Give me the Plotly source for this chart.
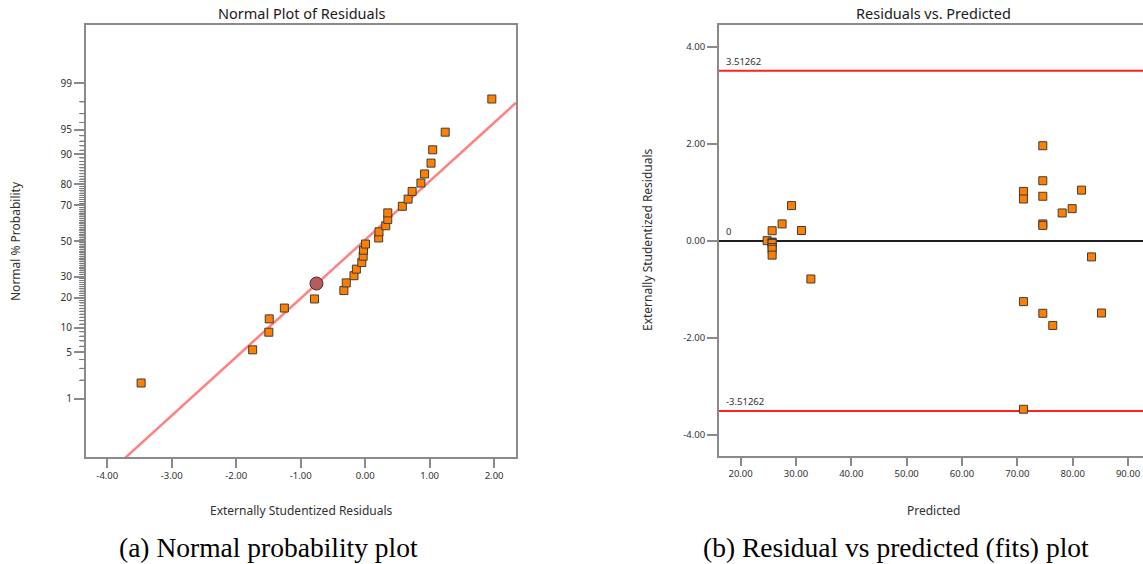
import plotly.graph_objects as go
from statistics import NormalDist

# ---------------- data ----------------
# (a) Normal plot of residuals
resid_sorted = [-3.475, -1.745, -1.494, -1.488, -1.253, -0.786, -0.330, -0.293, -0.173, -0.136,
                -0.052, -0.031, -0.026, 0.005, 0.210, 0.215, 0.320, 0.351, 0.351, 0.577,
                0.666, 0.729, 0.865, 0.922, 1.022, 1.048, 1.242, 1.965]
normal_pct = [1.8, 5.4, 8.9, 12.5, 16.1, 19.6, 23.2, 26.8, 30.4, 33.9, 37.5, 41.1, 44.6, 48.2,
              51.8, 55.4, 58.9, 62.5, 66.1, 69.6, 73.2, 76.8, 80.4, 83.9, 87.5, 91.1, 94.6, 98.2]
highlight_resid = [-0.755]
highlight_pct = [26.5]
fit_mean = -0.02
fit_sd = 1.156
prob_major_ticks = [1, 5, 10, 20, 30, 50, 70, 80, 90, 95, 99]
prob_minor_ticks = [2, 3, 4, 6, 7, 8, 9] + list(range(11, 20)) + list(range(21, 30)) + \
                   list(range(31, 50)) + list(range(51, 70)) + list(range(71, 80)) + \
                   list(range(81, 90)) + [91, 92, 93, 94, 96, 97, 98]
resid_ticks = [-4, -3, -2, -1, 0, 1, 2]
resid_range = [-4.33, 2.34]
prob_z_range = [-3.19, 3.19]

# (b) Residuals vs predicted
predicted = [24.8, 25.7, 25.7, 25.7, 25.7, 25.7, 25.7, 25.7, 27.5, 29.2, 31.0, 32.7,
             71.1, 71.1, 71.1, 71.1, 74.6, 74.6, 74.6, 74.6, 74.6, 74.6,
             76.4, 78.1, 79.9, 81.6, 83.4, 85.2]
ext_resid = [0.005, 0.210, -0.026, -0.031, -0.052, -0.136, -0.173, -0.293, 0.351, 0.729, 0.215, -0.786,
             1.022, 0.865, -1.253, -3.475, 1.965, 1.242, 0.922, 0.351, 0.320, -1.494,
             -1.745, 0.577, 0.666, 1.048, -0.330, -1.488]
limit = 3.51262
pred_ticks = [20, 30, 40, 50, 60, 70, 80, 90]
res_ticks = [-4, -2, 0, 2, 4]
pred_range = [16.1, 92.7]
res_range = [-4.44, 4.457]

# ---------------- helpers ----------------
W, H = 1143, 564
nd = NormalDist()


def prob_to_z(p):
    return nd.inv_cdf(p / 100.0)


def px(x):
    return x / W


def py(y):
    return 1 - y / H


def fmt(v):
    return ("%.2f" % v)


FONT = "Noto Sans"
TXT = "#303030"
AXC = "#8a8a8a"
ORANGE = "#FF8000"
EDGE = "#3c3c3c"

fig = go.Figure()

# ---- (a) normal plot ----
fit_x = resid_range
fit_z = [(v - fit_mean) / fit_sd for v in fit_x]
fig.add_trace(go.Scatter(x=fit_x, y=fit_z, mode="lines",
                         line=dict(color="#FF8282", width=2.5),
                         xaxis="x", yaxis="y", showlegend=False, hoverinfo="skip"))
fig.add_trace(go.Scatter(x=resid_sorted, y=[prob_to_z(p) for p in normal_pct], mode="markers",
                         marker=dict(symbol="square", size=8, color=ORANGE,
                                     line=dict(color=EDGE, width=1)),
                         xaxis="x", yaxis="y", showlegend=False))
fig.add_trace(go.Scatter(x=highlight_resid, y=[prob_to_z(p) for p in highlight_pct], mode="markers",
                         marker=dict(symbol="circle", size=13, color="#B65C5C",
                                     line=dict(color="#4a2828", width=1)),
                         xaxis="x", yaxis="y", showlegend=False))

# ---- (b) residuals vs predicted ----
for yv, col in [(limit, "#FF2020"), (-limit, "#FF2020"), (0, "#1e1e1e")]:
    fig.add_trace(go.Scatter(x=pred_range, y=[yv, yv], mode="lines",
                             line=dict(color=col, width=2),
                             xaxis="x2", yaxis="y2", showlegend=False, hoverinfo="skip"))
fig.add_trace(go.Scatter(x=predicted, y=ext_resid, mode="markers",
                         marker=dict(symbol="square", size=8, color=ORANGE,
                                     line=dict(color=EDGE, width=1)),
                         xaxis="x2", yaxis="y2", showlegend=False))

tickfont = dict(family=FONT, size=9.5, color=TXT)

fig.update_layout(
    width=W, height=H,
    margin=dict(l=0, r=0, t=0, b=0),
    paper_bgcolor="white", plot_bgcolor="white",
    showlegend=False,
    xaxis=dict(domain=[px(86), px(516)], range=resid_range, anchor="y",
               tickmode="array", tickvals=resid_ticks, ticktext=[fmt(v) for v in resid_ticks],
               ticks="outside", ticklen=9, tickcolor=AXC, tickwidth=1.5,
               showline=True, linecolor=AXC, linewidth=2, mirror=True,
               showgrid=False, zeroline=False, tickfont=tickfont),
    yaxis=dict(domain=[py(457), py(25)], range=prob_z_range, anchor="x",
               tickmode="array", tickvals=[prob_to_z(p) for p in prob_major_ticks],
               ticktext=[str(p) for p in prob_major_ticks],
               ticks="outside", ticklen=10, tickcolor=AXC, tickwidth=1.5,
               minor=dict(tickmode="array", tickvals=[prob_to_z(p) for p in prob_minor_ticks],
                          ticks="outside", ticklen=5, tickcolor=AXC, tickwidth=1, showgrid=False),
               showline=True, linecolor=AXC, linewidth=2, mirror=True,
               showgrid=False, zeroline=False, tickfont=dict(family=FONT, size=10, color=TXT)),
    xaxis2=dict(domain=[px(719), 1.0], range=pred_range, anchor="y2",
                tickmode="array", tickvals=pred_ticks, ticktext=[fmt(v) for v in pred_ticks],
                ticks="outside", ticklen=8, tickcolor=AXC, tickwidth=1.5,
                showline=True, linecolor=AXC, linewidth=2, mirror=True,
                showgrid=False, zeroline=False, tickfont=tickfont),
    yaxis2=dict(domain=[py(456), py(25)], range=res_range, anchor="x2",
                tickmode="array", tickvals=res_ticks, ticktext=[fmt(v) for v in res_ticks],
                ticks="outside", ticklen=10, tickcolor=AXC, tickwidth=1.5,
                showline=True, linecolor=AXC, linewidth=2, mirror=False,
                showgrid=False, zeroline=False, tickfont=tickfont),
)

# minor probability ticks also as short dashes left of the axis line, placed by the y scale
shapes = []
for p in prob_minor_ticks:
    z = prob_to_z(p)
    shapes.append(dict(type="line", xref="paper", yref="y", layer="above",
                       x0=px(80), x1=px(85), y0=z, y1=z,
                       line=dict(color="#7a7a7a", width=1)))
fig.update_layout(shapes=shapes)

ann = []


def label(text, x, y, size, angle=0, family=FONT, color="#1a1a1a", xanchor="center"):
    ann.append(dict(text=text, x=px(x), y=py(y), xref="paper", yref="paper",
                    showarrow=False, xanchor=xanchor, yanchor="middle", textangle=angle,
                    font=dict(family=family, size=size, color=color)))


label("Normal Plot of Residuals", 301, 13, 14.5)
label("Externally Studentized Residuals", 301, 510, 12, color=TXT)
label("Normal % Probability", 16, 241, 12, angle=-90, color=TXT)
label("Residuals vs. Predicted", 933, 13, 14.5)
label("Predicted", 933, 510, 12, color=TXT)
label("Externally Studentized Residuals", 648, 240, 12, angle=-90, color=TXT)
label("(a) Normal probability plot", 268, 547, 27.5, family="Liberation Serif", color="#000000")
label("(b) Residual vs predicted (fits) plot", 896, 547, 27.5, family="Liberation Serif", color="#000000")

for v, txt in [(limit, "3.51262"), (0, "0"), (-limit, "-3.51262")]:
    ann.append(dict(text=txt, x=0.012, y=v, xref="x2 domain", yref="y2",
                    showarrow=False, xanchor="left", yanchor="bottom", yshift=1,
                    font=dict(family=FONT, size=9.5, color=TXT)))

fig.update_layout(annotations=ann)
fig.write_html("out.html")
